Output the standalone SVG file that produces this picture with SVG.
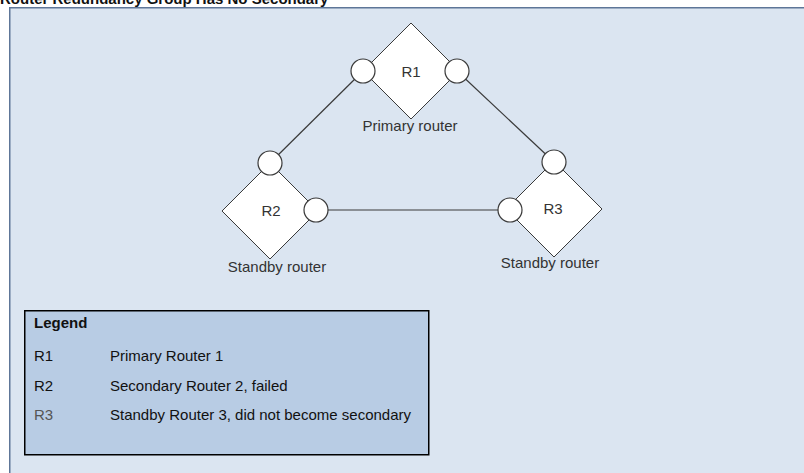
<svg xmlns="http://www.w3.org/2000/svg" width="804" height="473" viewBox="0 0 804 473">
<style>
.lbl{font-family:"Liberation Sans",Arial,sans-serif;font-size:15px;fill:#333333;text-anchor:middle}
.dia{fill:#ffffff;stroke:#3a3a3a;stroke-width:1}
.port{fill:#ffffff;stroke:#3a3a3a;stroke-width:1.2}
.conn{stroke:#3a3a3a;stroke-width:1.2;fill:none}
.lg{font-family:"Liberation Sans",Arial,sans-serif;font-size:15px;fill:#111111}
</style>
<rect x="0" y="0" width="804" height="473" fill="#ffffff"/>
<text x="0" y="3.5" font-family="'Liberation Sans',Arial,sans-serif" font-size="15" font-weight="bold" fill="#111111">Router Redundancy Group Has No Secondary</text>
<rect id="frame" x="9.75" y="7.75" width="800" height="480" fill="#dbe5f1" stroke="#5e7698" stroke-width="1.5"/>
<g id="connectors">
<line class="conn" x1="363" y1="71" x2="270" y2="163"/>
<line class="conn" x1="457" y1="71" x2="554" y2="162"/>
<line class="conn" x1="316" y1="210" x2="510" y2="210"/>
</g>
<g id="R1">
<polygon class="dia" points="411,23 459,71 411,119 363,71"/>
<circle class="port" cx="363" cy="71" r="12"/>
<circle class="port" cx="457" cy="71" r="12"/>
<text class="lbl" x="411" y="77">R1</text>
<text class="lbl" x="410" y="131">Primary router</text>
</g>
<g id="R2">
<polygon class="dia" points="270,163 318,211 270,259 222,211"/>
<circle class="port" cx="270" cy="163" r="12"/>
<circle class="port" cx="316" cy="210" r="12"/>
<text class="lbl" x="271" y="216">R2</text>
<text class="lbl" x="277" y="272">Standby router</text>
</g>
<g id="R3">
<polygon class="dia" points="554,161 602,209 554,257 506,209"/>
<circle class="port" cx="554" cy="162" r="12"/>
<circle class="port" cx="510" cy="210" r="12"/>
<text class="lbl" x="553" y="214">R3</text>
<text class="lbl" x="550" y="268">Standby router</text>
</g>
<g id="legend">
<rect x="24.75" y="310.75" width="404" height="144" fill="#b8cce4" stroke="#000000" stroke-width="1.5"/>
<text class="lg" x="34" y="328" font-weight="bold">Legend</text>
<text class="lg" x="34" y="361">R1</text>
<text class="lg" x="110" y="361">Primary Router 1</text>
<text class="lg" x="34" y="391">R2</text>
<text class="lg" x="110" y="391">Secondary Router 2, failed</text>
<text class="lg" x="34" y="420" style="fill:#555555">R3</text>
<text class="lg" x="110" y="420">Standby Router 3, did not become secondary</text>
</g>
</svg>
